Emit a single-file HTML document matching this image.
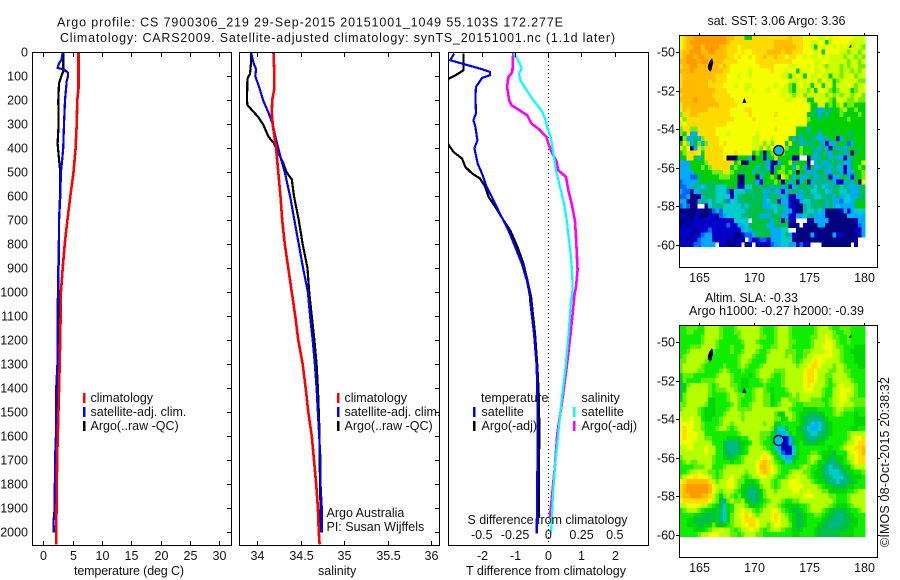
<!DOCTYPE html>
<html lang="en">
<head>
<meta charset="utf-8">
<title>Argo profile 7900306_219</title>
<style>
html,body{margin:0;padding:0;background:#fff}
svg{display:block}
text{font-family:"Liberation Sans",Arial,sans-serif;font-size:12.5px;fill:#111}
.line{fill:none;shape-rendering:crispEdges;stroke-linejoin:miter}
.frame{fill:none;stroke:#000;stroke-width:1.3;shape-rendering:crispEdges}
.tick{stroke:#000;stroke-width:1;shape-rendering:crispEdges}
</style>
</head>
<body>
<svg id="chart" xmlns="http://www.w3.org/2000/svg" width="900" height="580" viewBox="0 0 900 580">
<defs>
<clipPath id="clip-temp"><rect x="32.5" y="52.5" width="199" height="493"/></clipPath>
<clipPath id="clip-sal"><rect x="239.5" y="52.5" width="200" height="493"/></clipPath>
<clipPath id="clip-diff"><rect x="448.5" y="52.5" width="200" height="493"/></clipPath>
</defs>
<text x="57" y="26.5" textLength="506" lengthAdjust="spacing">Argo profile: CS 7900306_219 29-Sep-2015 20151001_1049 55.103S 172.277E</text>
<text x="60" y="42" textLength="555" lengthAdjust="spacing">Climatology: CARS2009. Satellite-adjusted climatology: synTS_20151001.nc (1.1d later)</text>

<g id="maps"></g>
<g id="profiles"></g>

<rect class="frame" x="32.5" y="52.5" width="199" height="493"/>
<rect class="frame" x="239.5" y="52.5" width="200" height="493"/>
<rect class="frame" x="448.5" y="52.5" width="200" height="493"/>
<rect class="frame" x="679.5" y="35.5" width="198" height="232"/>
<rect class="frame" x="679.5" y="325.5" width="198" height="232"/>

<text x="74" y="575" textLength="110" lengthAdjust="spacing">temperature (deg C)</text>
<text x="318" y="575">salinity</text>
<text x="466" y="575" textLength="160" lengthAdjust="spacing">T difference from climatology</text>
<text x="467.5" y="524" textLength="160" lengthAdjust="spacing">S difference from climatology</text>

<g>
<rect x="83" y="393" width="2.5" height="10" fill="#f00"/>
<text x="90.5" y="402">climatology</text>
<rect x="83" y="407" width="2.5" height="10" fill="#00f"/>
<text x="90.5" y="416">satellite-adj. clim.</text>
<rect x="83" y="421" width="2.5" height="10" fill="#000"/>
<text x="90.5" y="430">Argo(..raw -QC)</text>
</g>
<g>
<rect x="337" y="393" width="2.5" height="10" fill="#f00"/>
<text x="344.5" y="402">climatology</text>
<rect x="337" y="407" width="2.5" height="10" fill="#00f"/>
<text x="344.5" y="416">satellite-adj. clim.</text>
<rect x="337" y="421" width="2.5" height="10" fill="#000"/>
<text x="344.5" y="430">Argo(..raw -QC)</text>
</g>
<text x="326.5" y="517">Argo Australia</text>
<text x="326.5" y="531">PI: Susan Wijffels</text>
<g>
<text x="481" y="402">temperature</text>
<rect x="473" y="407" width="2.5" height="10" fill="#00f"/>
<text x="481.5" y="416">satellite</text>
<rect x="473" y="421" width="2.5" height="10" fill="#000"/>
<text x="481.5" y="430">Argo(-adj)</text>
<text x="581.5" y="402">salinity</text>
<rect x="573" y="407" width="2.5" height="10" fill="#0ff"/>
<text x="581.5" y="416">satellite</text>
<rect x="573" y="421" width="2.5" height="10" fill="#f0f"/>
<text x="581.5" y="430">Argo(-adj)</text>
</g>

<text x="707.5" y="25" textLength="138" lengthAdjust="spacing">sat. SST: 3.06 Argo: 3.36</text>
<text x="705" y="302" textLength="93" lengthAdjust="spacing">Altim. SLA: -0.33</text>
<text x="689" y="315" textLength="175" lengthAdjust="spacing">Argo h1000: -0.27 h2000: -0.39</text>
<text transform="translate(889,547) rotate(-90)" textLength="170" lengthAdjust="spacing">©IMOS 08-Oct-2015 20:38:32</text>
</svg>

<script>
// ---------- chart data ----------
const depthTicks = [0,100,200,300,400,500,600,700,800,900,1000,1100,1200,1300,1400,1500,1600,1700,1800,1900,2000];
const tempTicks = [0,5,10,15,20,25,30];
const salTicks = [34,34.5,35,35.5,36];
const salTickLabels = ['34','34.5','35','35.5','36'];
const tDiffTicks = [-2,-1,0,1,2];
const sDiffTicks = [-0.5,-0.25,0,0.25,0.5];
const sDiffLabels = ['-0.5','-0.25','0','0.25','0.5'];

const tempClimDepth = [0,150,200,300,400,500,600,700,800,900,1000,1100,1300,1500,1700,1900,2050];
const tempClim = [6.0,6.0,5.8,5.7,5.5,5.15,4.6,4.1,3.65,3.3,3.0,2.95,2.8,2.57,2.35,2.25,2.2];
const tempSatDepth = [0,30,50,65,72,85,100,120,200,300,400,450,500,600,700,800,900,1000,1100,1300,1400,1600,1700,1900,1950,2000];
const tempSat = [3.3,3.1,2.6,2.45,3.6,4.2,4.2,3.99,3.7,3.53,3.4,3.2,3.0,2.9,2.7,2.65,2.55,2.5,2.4,2.4,2.2,2.15,2.0,1.95,1.75,1.75];
const tempArgoDepth = [0,80,100,130,200,300,380,400,450,500,600,700,800,900,1000,1300,1600,1900,2000];
const tempArgo = [3.41,3.4,3.07,2.68,2.56,2.6,2.44,2.5,2.7,2.9,2.85,2.68,2.7,2.6,2.6,2.56,2.33,2.25,2.1];

const salClimDepth = [0,100,150,200,250,300,400,500,600,700,800,900,1000,1100,1200,1300,1400,1500,1600,1700,1800,1900,2000,2050];
const salClim = [34.19,34.2,34.2,34.175,34.17,34.18,34.22,34.245,34.27,34.29,34.32,34.36,34.4,34.44,34.475,34.525,34.56,34.59,34.63,34.655,34.68,34.7,34.71,34.72];
const salSatDepth = [0,50,70,100,150,200,250,300,350,400,450,500,600,700,800,900,1000,1100,1200,1300,1400,1500,1600,1700,1800,1900,2000];
const salSat = [33.93,33.965,33.99,33.98,34.03,34.07,34.13,34.18,34.21,34.245,34.28,34.32,34.38,34.43,34.48,34.53,34.585,34.61,34.64,34.665,34.685,34.7,34.715,34.73,34.73,34.745,34.745];
const salArgoDepth = [0,50,90,110,200,220,240,270,300,350,380,420,460,500,530,600,700,800,900,1000,1100,1200,1300,1400,1500,1600,1700,1800,1900,2000];
const salArgo = [33.93,33.93,33.92,33.89,33.885,33.89,33.94,34.015,34.07,34.13,34.195,34.245,34.3,34.34,34.4,34.425,34.48,34.525,34.58,34.6,34.63,34.66,34.685,34.7,34.71,34.72,34.72,34.725,34.73,34.73];

const dTSatDepth = [5,33,72,82,96,107,144,186,255,283,311,367,400,464,505,561,603,672,742,811,880,950,1019,1033,1172,1311,1450,1727,2005];
const dTSat = [-2.84,-2.96,-1.96,-1.76,-1.76,-2.0,-2.18,-2.2,-2.18,-2.26,-2.2,-2.14,-2.23,-2.13,-2.0,-1.86,-1.7,-1.46,-1.2,-1.0,-0.8,-0.65,-0.55,-0.55,-0.43,-0.35,-0.33,-0.33,-0.35];
const dTArgoDepth = [5,75,96,110,200,300,387,415,443,478,505,526,561,603,644,700,742,811,880,950,1019,1033,1172,1311,1450,1589,1727,1936];
const dTArgo = [-2.56,-2.56,-2.8,-3.0,-3.3,-3.3,-3.0,-2.86,-2.6,-2.5,-2.3,-2.06,-1.9,-1.8,-1.6,-1.35,-1.15,-0.93,-0.75,-0.63,-0.52,-0.51,-0.4,-0.33,-0.28,-0.27,-0.28,-0.29];
const dSSatDepth = [0,47,68,89,117,158,200,242,276,311,353,422,492,561,631,700,769,839,908,978,1019,1033,1172,1311,1450,1589,1727,1866,2005];
const dSSat = [-0.264,-0.214,-0.2,-0.22,-0.21,-0.163,-0.113,-0.05,-0.025,-0.008,0.018,0.038,0.058,0.088,0.118,0.138,0.153,0.168,0.178,0.183,0.178,0.171,0.153,0.13,0.1,0.075,0.05,0.033,0.02];
const dSArgoDepth = [0,82,103,144,200,221,242,263,297,318,353,380,415,457,492,519,575,631,700,769,839,908,978,1019,1033,1172,1311,1450,1589,1727,1866,1936];
const dSArgo = [-0.264,-0.27,-0.3,-0.31,-0.294,-0.276,-0.214,-0.158,-0.126,-0.075,-0.013,0.0,0.025,0.063,0.075,0.133,0.15,0.176,0.2,0.208,0.214,0.22,0.208,0.193,0.193,0.168,0.138,0.105,0.068,0.05,0.025,0.013];

const mapLonTicks = [165,170,175,180];
const mapLatTicks = [50,52,54,56,58,60];
const sstPalette = {a:'#ff9a00',b:'#ffbb00',c:'#ffdc00',d:'#f6ff00',e:'#ccff00',f:'#70f000',p:'#10ee00',g:'#00d000',h:'#00c048',i:'#00b888',j:'#00cccc',k:'#00aaff',l:'#0066ff',m:'#0000c8',n:'#000080'};
const slaPalette = {a:'#ff9a00',b:'#ffbb00',c:'#ffdc00',d:'#eeff00',e:'#b4ff00',f:'#60f000',p:'#10ee00',g:'#00d800',h:'#00c048',i:'#00b888',j:'#00cccc',k:'#00aaff',l:'#0066ff',m:'#0000d8',n:'#000088'};
const sstRows = [
"dcbbaaaaaaaaabbcccggccccccccccbcccddddeededdddddeee",
"dcbaaaaaaaaaabccccccccccccbbbbbcccddeeddgedddddeeee",
"dcbbaabaaaabbcccdcccccccccbbbbbbccddegdeddededeeeef",
"cbbaaabbaabbbcccdcddccccbbbbcbbcccdddedgddddeefeefe",
"cbaabaabbbbbbccdcddcdccbccbccdccddedeededeeeefeefef",
"bbaaabaabbbbccccddddDccccccccccddddddeeddeeeeefeefef",
"cbbaabbbbbbcbcddddddddccccddddeedddededefeeefefeef",
"bbbabbbbbbbbccdddddedddddcdddeddgedddeedeeeefeefefe",
"cbbbbbbbbbcccdddeddeddddddddeegedegdeedeegeefeedfee",
"cbbbbbbbcbcccdddddddddddddddddeeedededfdeegfedeeef",
"cbbbbbbbccccdddeddeeddddddeddefgedeegedgedgeeedefee",
"bbbbbbbbbbcccdddddededddedddeefgeeefegddefgfeeegfee",
"cbbbbbbbbcccccddddddddddddddedefedfeeeeefefefeefeef",
"bbbbabbbbbcccccddddddddddddddeeddddggdeedfgedeffeff",
"ebbbbbbbbbbcccccddddddddddddddddddddggeegfgfegffggg",
"ebcbbbbbccccccddddccddddddddddddddddgikkgiggfeggfgg",
"fccbbcccccccccdddddcddddddcddddddddgigkgkgggfggggfg",
"dfcccccccccccccdddddcddddddddddddddfggigggggggfgggg",
"cdcccccccccccddddddddddddddddddddddgggggggggggggggg",
"fccffcccccddddddddddddddddcdddddgggkgghggghgggggggg",
"fgckkcccccdddedddddddeddddddddddgigiggkgggggggihggg",
"nfkkhkfccccdddddddddeedddeddddgkhkghiikkihgmkgghggg",
"gcfkhfkfcccdcdddddddeedfdfdddgdghkiiighknkkgghlkggg",
"cfdnkcfcccccdddddddddefdfddedfhhhfggihkhknhkikhghhg",
"gfcccdgcccccdddcddddgfgmgfdffggggfhghkihikhhhkhnhgg",
"hgccgkgcccccdnnngggknggmhgeggghnm..nikihhkhkknkhggg",
"kkkggggfcccccccgfnnggghhkmnkggehgggm.kgkkhihhkkhgge",
"kkkgggfgfcccccgfgghggkhhknhgfggkfgkmgkkiikhkknkhgfg",
"kkkkgghggfffcefghhggkgiigmgffgfgnghkkihhkkhhkmkkggf",
"kkkllhgggggfffggnnhggnkggfgnefgkgkkhhkiihmkkhgkmhgf",
"lkkkkhhghhghggggnnghhkmhggfgngkhnkgnkiihkhkmmkhkgne",
"llkkhkjkhhjjjghhmmjjhhihhkhhkhmkihhiijijkiihjhkkkih",
"kllnkkhhihjjjlnjjjiihhhkkhkkmkihikihjjihjkhhjjikkih",
"llknnnkhhhjjjjmjihhhihhkiihikimmkkhiijjiiikhkjjkkih",
"kknnnkhkjijjhljjiihhhhhkjihmkkmnmkjjiihhkhkkljjkhgh",
"lklnn..njiihjjjjjijihhhkkjjiikmmnnijihihkhkjkkkkhgg",
"nnnnnmnnnlkljjjjjjihhhhhiijiikkmnnijjijknnnnmkmkjjj",
"mmnnmnnnmmnlkjjjjiihhhkkkhhhkkmmkkjiikkknnnnnnkkkkk",
"nnmnmmmmmmmmmmmjjjj.hhhhhkhhmhmm...mnkkkknnnnnnnmkk",
"nmnmmmmmmmmmmlmmkkjhghhhkkhhhhnnm.mnnnkknnnnnnnnnlk",
"mmmmnmmmlmmmmmmmmkjkhhhhhkkkjj..nnnnnnnnnnnnnnnnmmk",
"mmmnmmlkkmmmmmmnnmllkhhhhkkkjhkmnnnnkmnnnnkmmnnnnmk",
"mmnmmlkkkmmmmnmnmm.lmmllmkkkjjjnnnnnnnnnnnnnnnnnm..",
"mmmmllkkkk.mmnnnm.nm.mmmmlkkjjkkmlmm...nnnnnnnn.n.."
];
const slaRows = [
"ppfffppeeeefpppfeeeeeefpppfeeefppppppfeeefppfffppp",
"ppffpppeeeefpppffeeeeefpppfeeefppppppfeeeefppffppp",
"ppppppfeeeefppppfeeeeeffppfeeefpppppffeedeffppfppp",
"ppppppfeeefppppppfeeefppppfeeeffppppfeeeddefppfppp",
"pppfffeeeefpppfpppeeeefppffeeefpppppfeedddeffpppgg",
"ppfeeeeeefppppfppfeeefppfeeeefffppffeeeeddeefppggg",
"pfeeeeeefpppppppfeeefpppeeeeefefppfeedddddeefpppgg",
"ffeeeeefppppppppfeefppppeeeeeeefpfeedcddeeeefpppgg",
"feeeeefpppppfpppfefpppfeeeeeeeeefeedccdeeefeefpppg",
"feeeeffppppfefpppfpppfeeeefffeeeeedccdeeeffeeffppp",
"gfffppppppfeeefppppgpfeeefppfeeeeedccdeeffeeeefppp",
"hfppppffffeeeefppggpppfefpppfeeeeedccdeefpeeeeefpp",
"hgfeeeeefpfeeeffpggppppfppppfeeeeedcdeeefpfedeeefp",
"hgeeeeeefpfffeefpgppfeefpgpppfeeeedddeefppeedddefp",
"hfeeeeeefppppfeeffppfeeffgppppfefeeeeeefppeeddeefp",
"gfeeeeeeggpppfeefpppfeeffgppeefffeeefffppfeeddefff",
"ffeeeeefggppppfefppfeeeffgpfeeefppffffffpfeedeeeff",
"feeeefpgggpppfeeffffeeeeeeeeeefpppggggppppfeefffpp",
"eeeeefpgggppfeeeefeeeeeeeefggeefpgghhhhgppfefpppgp",
"deedeepggppfeeeeefeeeeeeeeffgpefpghiiiihgpppppppgg",
"ddddeefppppfeefeeeeeeeefeeggpppppghijkjihgppppppgg",
"dcddeefpppfeefpfeeeeeeeeefhjjhppghijkkjihgpppppggp",
"dcdddeepppppppppfeeeeefffghkkjgpgghijjihhgppppfeeee",
"dcdddeeffppppggggppeeeffpgikmmkhgghiiihhgpppppfeddc",
"ddddeeeeeppphiiihggpeefppgjlmmkhgpghhhggpppppfeedcc",
"eeddeeedeepphiiihgpeeeefpgjkmnmjgppppppppgppfeddccb",
"eeeeeeedeepphhiihgpeeeedepgjlmmjgpppffpggghpppeddcb",
"feeeeeeeefppghhgpfeeeedcdepgjkkhgppfeefgghhggpeedcc",
"pfeffeeeefppppgppfeeedcbcefpgjjgpppfefgghiihgpfedcc",
"ppppfffeepppfeeeeeeeedbbcdefpppppfefppghijiihggfeee",
"ppfeedeeffpfeeeeeefeedcbcdefppfeeeffpgghijjjihggppf",
"feddcdddefpfeedeefpfeeddeefppfeedeefpgghhijjjihgggp",
"dcbbbbbbcefeeddeffgggpeeefpfeedddeeefpgghiijiihhgpp",
"cbaaaaaabdeeeddefgghhgfeefpfeeddddeeeefpgghhhhggppp",
"cbaaaaaabdefeeefpghiihgfeefeeeeddeedeeeffgggggppfee",
"cbbaaabbcefgfefpfghiihgfeeeeeeeeeedddeeeeffpppfeeee",
"dcccccccdefhifeffeghihgpfeeefppffeeeeeeeeefpppfeeee",
"eeddddeefpghjgpeeefgggpfeeefpggggppfeeeeefpgggpfeee",
"pfeeefpgghgijgpeedeefpfeeddefpghhgpfeeefpghhhhgppfe",
"ppppgghhhhgijgfeddcdefeeedcdefpghhgppffpghhiihhgppp",
"ppgghhhhhhgijgfeedcccdeeedcdeepghhgppppghhiiihhggpp",
"ppggghhggfghgpfeeddccdeefeddeefghhgpppghhiiihhhggpp",
"ppppgggpfeedeefpfeeddefpfeeefppghgpppghhhhhhhhggppp",
"pppppfeedddeeeffpfeeeffppppppppggppppghhhhhhggggppp"
];
const island1Lon = [165.85,166.0,166.2,166.3,166.2,166.15,166.05,165.9];
const island1Lat = [50.75,50.5,50.35,50.55,50.75,50.9,51.0,50.9];
const island2Lon = [169.0,169.15,169.3];
const island2Lat = [52.62,52.42,52.62];
const island3Lon = [178.7,178.85,178.85];
const island3Lat = [49.75,49.65,49.75];
const argoLon = 172.277;
const argoLat = 55.103;

// ---------- scales ----------
const NS = 'http://www.w3.org/2000/svg';
const yD = d => 52.3 + 0.24 * d;
const xT = v => 43.3 + 5.867 * v;
const xS = v => 257 + 87 * (v - 34);
const xDT = v => 548.3 + 33.15 * v;
const xDS = v => 548.3 + 133 * v;
const xLon = v => 698.7 + 11 * (v - 165);
const yLat1 = v => 52 + 19.3 * (v - 50);
const yLat2 = v => 342 + 19.3 * (v - 50);

const profiles = document.getElementById('profiles');
const maps = document.getElementById('maps');

function drawLine(depths, values, xf, color, width, clip, name) {
  const el = document.createElementNS(NS, 'polyline');
  
  
  el.setAttribute('class', 'line');
  el.setAttribute('stroke', color);
  el.setAttribute('stroke-width', width);
  el.setAttribute('clip-path', 'url(#' + clip + ')');
  el.setAttribute('points', values.map((v, i) => xf(v).toFixed(1) + ',' + yD(depths[i]).toFixed(1)).join(' '));
  profiles.appendChild(el);
}
function drawTick(parent, x1, y1, x2, y2) {
  const el = document.createElementNS(NS, 'line');
  
  
  el.setAttribute('class', 'tick');
  el.setAttribute('x1', x1);
  el.setAttribute('y1', y1);
  el.setAttribute('x2', x2);
  el.setAttribute('y2', y2);
  parent.appendChild(el);
}
function drawLabel(parent, x, y, str, anchor) {
  const el = document.createElementNS(NS, 'text');
  
  
  el.setAttribute('x', x);
  el.setAttribute('y', y);
  el.setAttribute('text-anchor', anchor);
  el.textContent = str;
  parent.appendChild(el);
}

// ---------- profile panels ----------
const zero = document.createElementNS(NS, 'line');


zero.setAttribute('x1', Math.round(xDT(0)) + 0.5);
zero.setAttribute('x2', Math.round(xDT(0)) + 0.5);
zero.setAttribute('y1', 53);
zero.setAttribute('y2', 545);
zero.setAttribute('stroke', '#000');
zero.setAttribute('stroke-dasharray', '1 3');
profiles.appendChild(zero);

drawLine(tempArgoDepth, tempArgo, xT, '#000', 2.2, 'clip-temp', 'temperature-argo-line');
drawLine(tempSatDepth, tempSat, xT, '#00f', 2.2, 'clip-temp', 'temperature-satellite-line');
drawLine(tempClimDepth, tempClim, xT, '#f00', 2.6, 'clip-temp', 'temperature-climatology-line');
drawLine(salArgoDepth, salArgo, xS, '#000', 2.2, 'clip-sal', 'salinity-argo-line');
drawLine(salSatDepth, salSat, xS, '#00f', 2.2, 'clip-sal', 'salinity-satellite-line');
drawLine(salClimDepth, salClim, xS, '#f00', 2.6, 'clip-sal', 'salinity-climatology-line');
drawLine(dTArgoDepth, dTArgo, xDT, '#000', 2.2, 'clip-diff', 't-difference-argo-line');
drawLine(dTSatDepth, dTSat, xDT, '#00f', 2.2, 'clip-diff', 't-difference-satellite-line');
drawLine(dSArgoDepth, dSArgo, xDS, '#f0f', 2.6, 'clip-diff', 's-difference-argo-line');
drawLine(dSSatDepth, dSSat, xDS, '#0ff', 2.2, 'clip-diff', 's-difference-satellite-line');

depthTicks.forEach(d => {
  const y = Math.round(yD(d)) + 0.5;
  drawLabel(profiles, 28, y + 4, String(d), 'end');
  drawTick(profiles, 227, y, 231, y);
  drawTick(profiles, 435, y, 439, y);
});
tempTicks.forEach(v => {
  const x = Math.round(xT(v)) + 0.5;
  drawTick(profiles, x, 53, x, 57);
  drawTick(profiles, x, 541, x, 545);
  drawLabel(profiles, x, 560, String(v), 'middle');
});
salTicks.forEach((v, i) => {
  const x = Math.round(xS(v)) + 0.5;
  drawTick(profiles, x, 53, x, 57);
  drawTick(profiles, x, 541, x, 545);
  drawLabel(profiles, x, 560, salTickLabels[i], 'middle');
});
tDiffTicks.forEach(v => {
  const x = Math.round(xDT(v)) + 0.5;
  drawTick(profiles, x, 53, x, 57);
  drawLabel(profiles, x, 560, String(v), 'middle');
});
sDiffTicks.forEach((v, i) => {
  drawLabel(profiles, xDS(v), 539, sDiffLabels[i], 'middle');
});

// ---------- maps ----------
const CELL_W = 3.65;
const CELL_H = 212 / 44;
function drawMap(rows, palette, top, yLat, name) {
  const group = document.createElementNS(NS, 'g');
  
  
  group.setAttribute('shape-rendering', 'crispEdges');
  rows.forEach((row, r) => {
    for (let c = 0; c < 51; c++) {
      const color = palette[(row.charAt(c) || row.charAt(row.length - 1)).toLowerCase()];
      if (!color) continue;
      const cell = document.createElementNS(NS, 'rect');
      
      
      cell.setAttribute('x', (679 + c * CELL_W).toFixed(2));
      cell.setAttribute('y', (top + r * CELL_H).toFixed(2));
      cell.setAttribute('width', (CELL_W + 0.2).toFixed(2));
      cell.setAttribute('height', (CELL_H + 0.2).toFixed(2));
      cell.setAttribute('fill', color);
      group.appendChild(cell);
    }
  });
  maps.appendChild(group);
  [[island1Lon, island1Lat], [island2Lon, island2Lat], [island3Lon, island3Lat]].forEach(pair => {
    const land = document.createElementNS(NS, 'polygon');
    
    
    land.setAttribute('fill', '#000');
    land.setAttribute('stroke', '#000');
    land.setAttribute('stroke-width', '0.6');
    land.setAttribute('points', pair[0].map((v, i) => xLon(v).toFixed(1) + ',' + yLat(pair[1][i]).toFixed(1)).join(' '));
    maps.appendChild(land);
  });
  const dot = document.createElementNS(NS, 'circle');
  
  
  dot.setAttribute('cx', xLon(argoLon));
  dot.setAttribute('cy', yLat(argoLat));
  dot.setAttribute('r', 5);
  dot.setAttribute('fill', '#00b4ff');
  dot.setAttribute('stroke', '#000');
  dot.setAttribute('stroke-width', 1.2);
  maps.appendChild(dot);
  const bottom = top + 232;
  mapLonTicks.forEach(v => {
    const x = Math.round(xLon(v)) + 0.5;
    drawTick(maps, x, top - 2, x, top);
    drawLabel(maps, x, bottom + 15, String(v), 'middle');
  });
  mapLatTicks.forEach(v => {
    const y = Math.round(yLat(v)) + 0.5;
    drawTick(maps, 676, y, 679, y);
    drawTick(maps, 878, y, 880, y);
    drawLabel(maps, 675, y + 4, '-' + v, 'end');
  });
}
drawMap(sstRows, sstPalette, 35, yLat1, 'sst-map');
drawMap(slaRows, slaPalette, 325, yLat2, 'sla-map');
</script>
</body>
</html>
